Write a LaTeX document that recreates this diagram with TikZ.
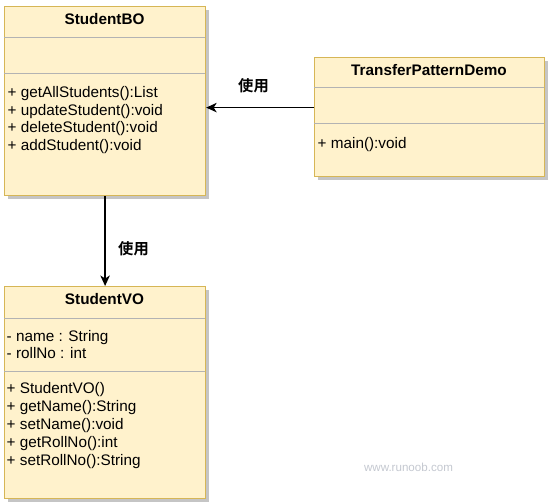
\documentclass[tikz,border=0pt]{standalone}
\usepackage{fontspec}
\setmainfont{Liberation Sans}
\newfontfamily\cjk{Noto Sans CJK SC}[BoldFont={* Bold}]
\usetikzlibrary{positioning,shadows,arrows.meta}

\definecolor{umlfill}{HTML}{FFF2CC}
\definecolor{umlline}{HTML}{D6B656}
\definecolor{umlsep}{HTML}{B3B3B3}
\definecolor{markgray}{HTML}{C4C8D0}
\newcommand{\umlfont}{\fontsize{15.3}{18}\selectfont}

\begin{document}
\begin{tikzpicture}[x=1pt, y=-1pt,
    classbox/.style={draw=umlline, fill=umlfill, line width=1.2pt, inner sep=0pt, anchor=north west,
      drop shadow={shadow xshift=3pt, shadow yshift=-3pt, fill=black!45, opacity=0.5}},
    divider/.style={draw=umlsep, line width=1pt},
    classname/.style={font=\umlfont\bfseries, anchor=base, inner sep=0pt},
    member/.style={font=\umlfont, anchor=base west, inner sep=0pt},
    uses/.style={-{Stealth[length=10.5pt, width=9.5pt, inset=3pt]}, line width=1.3pt},
    useslabel/.style={font=\umlfont\cjk\bfseries, inner sep=0pt},
    watermark/.style={font=\fontsize{11.6}{14}\selectfont, text=markgray, inner sep=0pt}]
    \useasboundingbox (0,0) rectangle (550,503);

    % StudentBO
    \node[classbox, minimum width=201pt, minimum height=189pt] (bo) at (4,6) {};
    \node[classname] (bo-name) at (104.5,25) {StudentBO};
    \draw[divider] (4,38) -- (205,38);
    \draw[divider] (4,74) -- (205,74);
    \foreach \op [count=\i] in {getAllStudents():List, updateStudent():void, deleteStudent():void, addStudent():void}
      \node[member] (bo-op\i) at (7.5,80.5+17.5*\i) {+ \op};

    % TransferPatternDemo
    \node[classbox, minimum width=230pt, minimum height=119pt] (tpd) at (314,57) {};
    \node[classname] (tpd-name) at (429,75.5) {TransferPatternDemo};
    \draw[divider] (314,88) -- (544,88);
    \draw[divider] (314,124) -- (544,124);
    \node[member] (tpd-op1) at (317.5,149) {+ main():void};

    % StudentVO
    \node[classbox, minimum width=201pt, minimum height=212pt] (vo) at (4,286) {};
    \node[classname] (vo-name) at (104.5,305) {StudentVO};
    \draw[divider] (4,318) -- (205,318);
    \draw[divider] (4,371) -- (205,371);
    \foreach \att [count=\i] in {name : String, rollNo : int}
      \node[member] (vo-att\i) at (6.5,324.5+17.2*\i) {- \att};
    \foreach \op [count=\i] in {StudentVO(), getName():String, setName():void, getRollNo():int, setRollNo():String}
      \node[member] (vo-op\i) at (6.5,375.5+17.9*\i) {+ \op};

    % connect classes
    \coordinate (tpd-out) at ([yshift=9.5pt]tpd.west);
    \draw[uses] (tpd-out) -- (tpd-out -| bo.east);
    \node[useslabel] (use-tpd) at (253.5,86) {使用};
    \draw[uses] (bo.south) -- (vo.north);
    \node[useslabel] (use-bo) at (133.5,249) {使用};

    \node[watermark] (site) at (408.5,467) {www.runoob.com};
\end{tikzpicture}
\end{document}
